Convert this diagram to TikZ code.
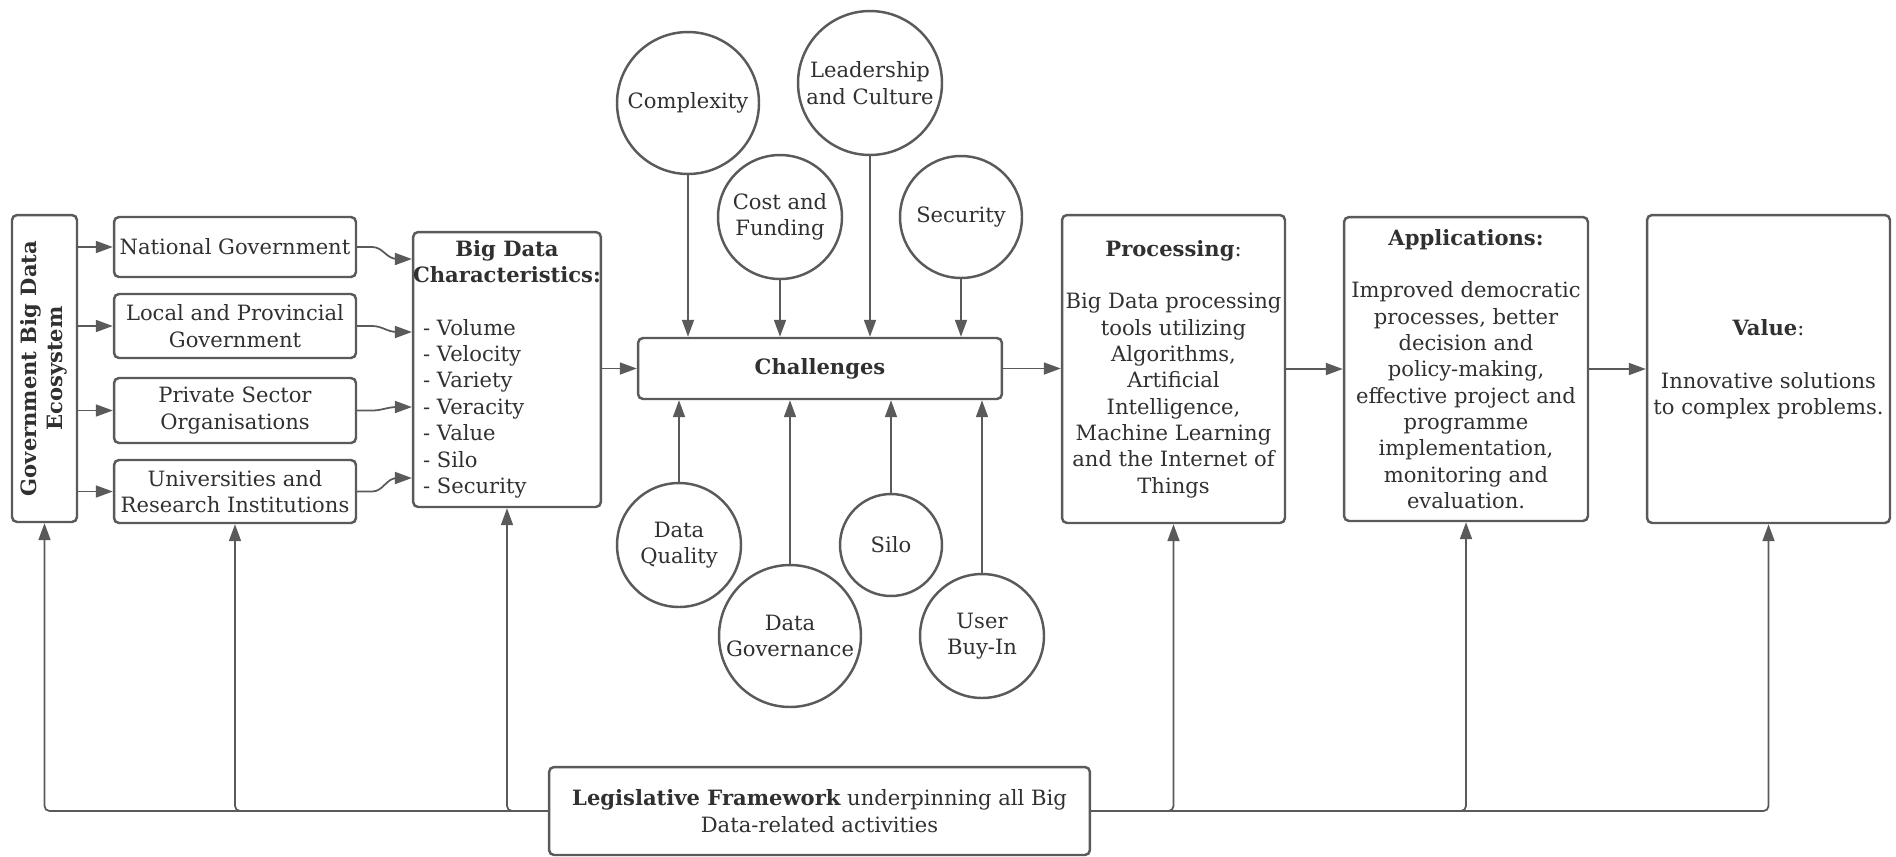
\documentclass[tikz,border=0pt]{standalone}
\usepackage{fontspec}
\setmainfont{DejaVu Serif}
\usepackage{graphicx}
\usetikzlibrary{arrows.meta,positioning}

\definecolor{lined}{HTML}{5A5A5A}
\definecolor{inkd}{HTML}{303030}

\begin{document}
\begin{tikzpicture}[
  x=0.02cm, y=-0.02cm,
  font=\fontsize{12}{15}\selectfont,
  text=inkd,
  box/.style={draw=lined,line width=1.4pt,rounded corners=0.1cm,align=center,inner sep=0pt},
  bubble/.style={circle,draw=lined,line width=1.4pt,align=center,inner sep=0pt},
  arr/.style={-{Triangle[length=0.34cm,width=0.24cm]},draw=lined,line width=1pt},
  base/.style={arr,rounded corners=0.1cm},
]
  \useasboundingbox (0,0) rectangle (1896,856);

  % Ecosystem and its members
  \node[box,minimum width=1.3cm,minimum height=6.14cm] (eco) at (44.5,368.5)
    {\rotatebox{90}{\bfseries\begin{tabular}{@{}c@{}}Government Big Data\\Ecosystem\end{tabular}}};
  \node[box,minimum width=4.84cm,minimum height=1.2cm] (nat) at (235,247) {National Government};
  \node[box,minimum width=4.84cm,minimum height=1.28cm] (loc) at (235,326) {Local and Provincial\\Government};
  \node[box,minimum width=4.84cm,minimum height=1.3cm] (priv) at (235,410.5) {Private Sector\\Organisations};
  \node[box,minimum width=4.84cm,minimum height=1.26cm] (uni) at (235,491.5) {Universities and\\Research Institutions};

  \node[box,minimum width=3.64cm,minimum height=5.5cm] (bdc) at (507,369.5)
    {\begin{tabular}{@{}l@{}}
      \multicolumn{1}{@{}c@{}}{\bfseries Big Data}\\
      \multicolumn{1}{@{}c@{}}{\bfseries Characteristics:}\\[15pt]
      \hspace{0.2cm}- Volume\\\hspace{0.2cm}- Velocity\\\hspace{0.2cm}- Variety\\\hspace{0.2cm}- Veracity\\
      \hspace{0.2cm}- Value\\\hspace{0.2cm}- Silo\\\hspace{0.2cm}- Security
    \end{tabular}};

  % Challenges and the factors round it
  \node[box,minimum width=7.28cm,minimum height=1.22cm] (chal) at (820,368.5) {\bfseries Challenges};

  \node[bubble,minimum size=2.84cm] (cplx) at (688,103) {Complexity};
  \node[bubble,minimum size=2.88cm] (lead) at (870,83) {Leadership\\and Culture};
  \node[bubble,minimum size=2.48cm] (cost) at (780,217) {Cost and\\Funding};
  \node[bubble,minimum size=2.44cm] (secu) at (961,217) {Security};
  \node[bubble,minimum size=2.48cm] (dq) at (679,545) {Data\\Quality};
  \node[bubble,minimum size=2.84cm] (dg) at (790,636) {Data\\Governance};
  \node[bubble,minimum size=2.04cm] (silo) at (891,545) {Silo};
  \node[bubble,minimum size=2.48cm] (ubi) at (982,636) {User\\Buy-In};

  % Processing, applications, value
  \node[box,minimum width=4.46cm,minimum height=6.16cm] (proc) at (1173.5,369)
    {{\bfseries Processing}:\\[15pt]Big Data processing\\tools utilizing\\Algorithms,\\Artificial\\Intelligence,\\Machine Learning\\and the Internet of\\Things};
  \node[box,minimum width=4.88cm,minimum height=6.08cm] (app) at (1466,369)
    {{\bfseries Applications:}\\[15pt]Improved democratic\\processes, better\\decision and\\policy-making,\\effective project and\\programme\\implementation,\\monitoring and\\evaluation.};
  \node[box,minimum width=4.86cm,minimum height=6.16cm] (val) at (1768.5,369)
    {{\bfseries Value}:\\[15pt]Innovative solutions\\to complex problems.};

  \node[box,minimum width=10.82cm,minimum height=1.76cm] (leg) at (819.5,811)
    {{\bfseries Legislative Framework} underpinning all Big\\Data-related activities};

  % Ecosystem to members
  \draw[arr] (eco.east |- nat) -- (nat.west);
  \draw[arr] (eco.east |- loc) -- (loc.west);
  \draw[arr] (eco.east |- priv) -- (priv.west);
  \draw[arr] (eco.east |- uni) -- (uni.west);

  % Members to characteristics (small jogs)
  \draw[arr] (nat.east) -- ++(15,0) to[out=0,in=180] ++(25,12) coordinate (j1) -- (j1 -| bdc.west);
  \draw[arr] (loc.east) -- ++(15,0) to[out=0,in=180] ++(25,6) coordinate (j2) -- (j2 -| bdc.west);
  \draw[arr] (priv.east) -- ++(15,0) to[out=0,in=180] ++(25,-3.5) coordinate (j3) -- (j3 -| bdc.west);
  \draw[arr] (uni.east) -- ++(15,0) to[out=0,in=180] ++(25,-13.5) coordinate (j4) -- (j4 -| bdc.west);

  % Main flow
  \draw[arr] (bdc.east |- chal) -- (chal.west);
  \draw[arr] (chal.east) -- (chal.east -| proc.west);
  \draw[arr] (proc.east) -- (app.west);
  \draw[arr] (app.east) -- (val.west);

  % Factors into challenges
  \draw[arr] (cplx.south) -- (cplx.south |- chal.north);
  \draw[arr] (cost.south) -- (cost.south |- chal.north);
  \draw[arr] (lead.south) -- (lead.south |- chal.north);
  \draw[arr] (secu.south) -- (secu.south |- chal.north);
  \draw[arr] (dq.north) -- (dq.north |- chal.south);
  \draw[arr] (dg.north) -- (dg.north |- chal.south);
  \draw[arr] (silo.north) -- (silo.north |- chal.south);
  \draw[arr] (ubi.north) -- (ubi.north |- chal.south);

  % Legislative framework underpins everything
  \draw[base] (leg.west) -| (eco.south);
  \draw[base] (leg.west) -| (uni.south);
  \draw[base] (leg.west) -| (bdc.south);
  \draw[base] (leg.east) -| (proc.south);
  \draw[base] (leg.east) -| (app.south);
  \draw[base] (leg.east) -| (val.south);
\end{tikzpicture}
\end{document}
